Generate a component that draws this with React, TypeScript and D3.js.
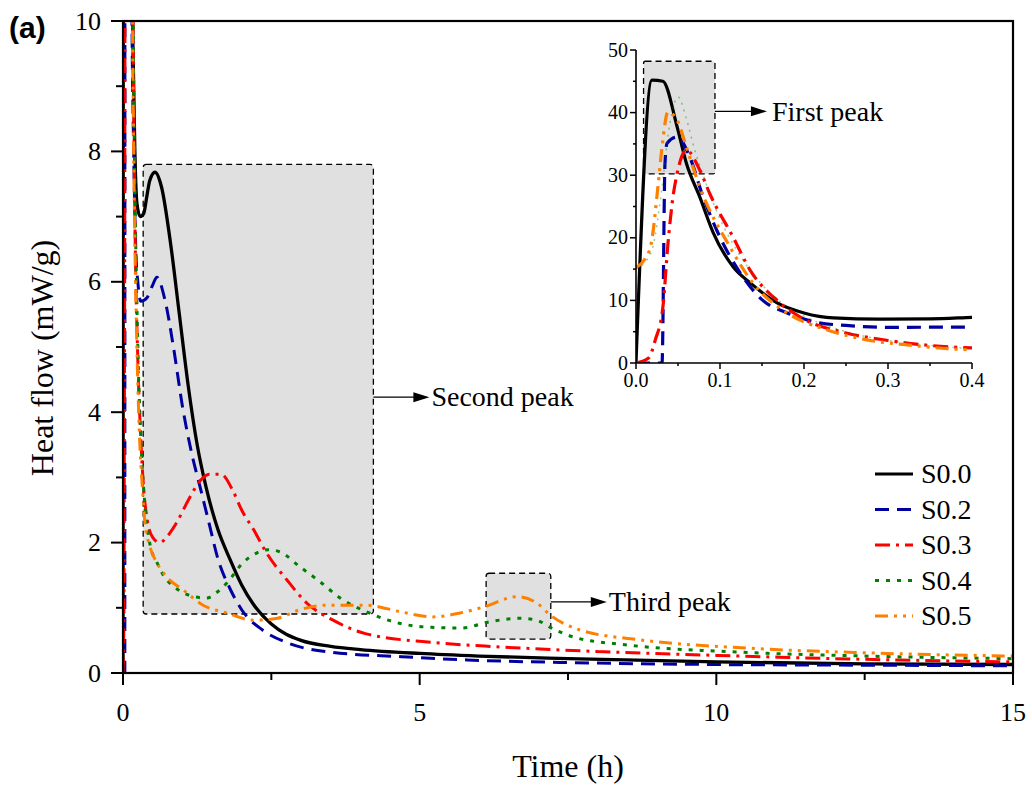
import React from "react";
import * as d3 from "d3";

const width = 1032;
const height = 787;

// [time (h), heat flow (mW/g)]
const s00 = [
  [0, 0], [0.019, 45.2], [0.032, 45], [0.049, 37.7], [0.06, 31.9], [0.076, 26.5],
  [0.092, 20.8], [0.116, 15.3], [0.136, 12.8], [0.168, 9.6], [0.2, 8.0], [0.235, 7.2],
  [0.29, 7.0], [0.35, 7.05], [0.4, 7.3], [0.45, 7.55], [0.54, 7.68], [0.65, 7.45],
  [0.8, 6.6], [0.95, 5.5], [1.1, 4.4], [1.25, 3.5], [1.4, 2.85], [1.6, 2.2], [1.8, 1.75],
  [2.0, 1.35], [2.2, 1.05], [2.5, 0.75], [3.0, 0.5], [3.5, 0.41], [4.0, 0.36], [5, 0.3],
  [6, 0.26], [7.5, 0.22], [10, 0.17], [12.5, 0.14], [15, 0.13]
];
const s02 = [
  [0, 0], [0.031, 0], [0.0345, 31.9], [0.037, 35.1], [0.049, 36.1], [0.064, 32.9],
  [0.08, 26.5], [0.1, 20.1], [0.124, 14.4], [0.151, 10], [0.18, 8], [0.215, 6.5],
  [0.25, 6.0], [0.3, 5.7], [0.4, 5.75], [0.5, 5.95], [0.57, 6.07], [0.7, 5.75],
  [0.85, 5.0], [1.0, 4.1], [1.15, 3.4], [1.3, 2.85], [1.45, 2.3], [1.6, 1.75], [1.8, 1.3],
  [2.0, 0.97], [2.35, 0.66], [2.75, 0.47], [3.5, 0.32], [4.7, 0.25], [5.8, 0.2],
  [7.5, 0.16], [10, 0.13], [12.5, 0.12], [15, 0.11]
];
const s03 = [
  [0, 0], [0.015, 0.8], [0.023, 3.7], [0.032, 8.9], [0.038, 19], [0.044, 26.5],
  [0.049, 30.3], [0.06, 34], [0.076, 30.8], [0.088, 27], [0.116, 20], [0.136, 14.8],
  [0.168, 10], [0.2, 7.0], [0.25, 4.8], [0.3, 3.6], [0.35, 2.8], [0.4, 2.4], [0.5, 2.08],
  [0.62, 2.0], [0.75, 2.1], [0.9, 2.3], [1.1, 2.65], [1.3, 2.95], [1.45, 3.05],
  [1.65, 3.05], [1.85, 2.8], [2.0, 2.5], [2.2, 2.2], [2.42, 1.84], [2.76, 1.43],
  [3.1, 1.07], [3.54, 0.81], [4.1, 0.6], [5.2, 0.47], [6.35, 0.4], [8, 0.33], [10, 0.27],
  [12.5, 0.21], [15, 0.17]
];
const s04 = [
  [0, 15], [0.01, 16], [0.02, 18.5], [0.03, 27], [0.04, 38], [0.05, 42.5], [0.06, 39],
  [0.07, 34], [0.08, 30], [0.1, 23], [0.12, 18], [0.15, 12.5], [0.18, 9], [0.2, 7.5],
  [0.25, 5.0], [0.3, 3.6], [0.35, 2.8], [0.4, 2.3], [0.46, 1.95], [0.57, 1.7], [0.68, 1.5],
  [0.85, 1.33], [1.02, 1.23], [1.2, 1.17], [1.41, 1.15], [1.6, 1.25], [1.75, 1.38],
  [2.02, 1.69], [2.25, 1.84], [2.45, 1.89], [2.64, 1.86], [2.98, 1.63], [3.32, 1.4],
  [3.66, 1.15], [4.1, 0.94], [4.67, 0.76], [5.2, 0.7], [5.7, 0.69], [6.2, 0.79],
  [6.7, 0.84], [7.0, 0.8], [7.2, 0.7], [7.6, 0.55], [8.5, 0.43], [10.4, 0.32],
  [12.5, 0.26], [15, 0.22]
];
const s05 = [
  [0, 15.3], [0.01, 16.5], [0.018, 19], [0.026, 28], [0.031, 34.5], [0.038, 40.1],
  [0.049, 38.8], [0.06, 34.5], [0.076, 28.1], [0.112, 18.5], [0.139, 12.8], [0.18, 8],
  [0.227, 5.3], [0.275, 3.7], [0.33, 2.8], [0.37, 2.3], [0.45, 1.95], [0.57, 1.69],
  [0.74, 1.47], [1.02, 1.27], [1.35, 1.04], [1.75, 0.92], [2.2, 0.81], [2.6, 0.84],
  [2.98, 0.97], [3.44, 1.04], [4.1, 1.04], [4.67, 0.94], [5.22, 0.86], [5.68, 0.92],
  [6.07, 1.01], [6.64, 1.17], [6.98, 1.07], [7.2, 0.89], [7.7, 0.66], [8.7, 0.51],
  [10.57, 0.38], [12.5, 0.31], [15, 0.26]
];

const seriesNames = ["S0.0", "S0.2", "S0.3", "S0.4", "S0.5"];
const seriesData = [s00, s02, s03, s04, s05];
const seriesColors = ["#000000", "#0000a0", "#ff0000", "#008000", "#ff8000"];
const seriesDash = ["", "14,8", "15,6,3,6", "4,7", "13,6,3,6,3,6"];

// highlighted regions [t0, t1, v0, v1] and their labels
const mainBoxes = [
  { label: "Second peak", t: [0.34, 4.22], v: [0.905, 7.8], arrowV: 4.23 },
  { label: "Third peak", t: [6.12, 7.21], v: [0.52, 1.53], arrowV: 1.09 }
];
const insetBox = { label: "First peak", t: [0.009, 0.094], v: [30.2, 48.2], arrowV: 40.2 };

const serif = "'Liberation Serif', 'Times New Roman', serif";

function Arrow({ x1, x2, y }: { x1: number; x2: number; y: number }) {
  return (
    <g>
      <line x1={x1} x2={x2 - 12} y1={y} y2={y} stroke="#000" strokeWidth={1.3} />
      <path d={`M${x2},${y} L${x2 - 16},${y - 5} L${x2 - 16},${y + 5} Z`} fill="#000" />
    </g>
  );
}

export default function App() {
  const x = d3.scaleLinear().domain([0, 15]).range([123, 1013]);
  const y = d3.scaleLinear().domain([0, 10]).range([673, 21]);
  const ix = d3.scaleLinear().domain([0, 0.4]).range([636, 972]);
  const iy = d3.scaleLinear().domain([0, 50]).range([363, 50]);

  const line = d3
    .line<number[]>()
    .x(d => x(d[0]))
    .y(d => y(d[1]))
    .curve(d3.curveMonotoneX);
  const insetLine = d3
    .line<number[]>()
    .x(d => ix(d[0]))
    .y(d => iy(d[1]))
    .curve(d3.curveMonotoneX);

  const xMajor = x.ticks(3);
  const xMinor = d3.pairs(xMajor).map(([a, b]) => (a + b) / 2);
  const yMajor = y.ticks(5);
  const yMinor = d3.pairs(yMajor).map(([a, b]) => (a + b) / 2);
  const ixMajor = ix.ticks(4);
  const ixMinor = d3.pairs(ixMajor).map(([a, b]) => (a + b) / 2);
  const iyMajor = iy.ticks(5);
  const iyMinor = d3.pairs(iyMajor).map(([a, b]) => (a + b) / 2);
  const fmt1 = d3.format(".1f");

  const [x0, x1] = x.range();
  const [y0, y1] = y.range();

  return (
    <svg width={width} height={height} style={{ position: "absolute", left: 0, top: 0 }}>
      <defs>
        <clipPath id="mainClip">
          <rect x={x0} y={y1} width={x1 - x0} height={y0 - y1} />
        </clipPath>
        <clipPath id="insetClip">
          <rect x={ix(0)} y={iy(50)} width={ix(0.4) - ix(0)} height={iy(0) - iy(50)} />
        </clipPath>
      </defs>
      <rect width={width} height={height} fill="#fff" />

      {/* shaded peak regions */}
      {mainBoxes.map((b, i) => (
        <g key={i}>
          <rect
            x={x(b.t[0])}
            y={y(b.v[1])}
            width={x(b.t[1]) - x(b.t[0])}
            height={y(b.v[0]) - y(b.v[1])}
            rx={3}
            fill="#e0e0e0"
            stroke="#000"
            strokeWidth={1.3}
            strokeDasharray="6,4"
          />
          <Arrow x1={x(b.t[1])} x2={x(b.t[1]) + 56} y={y(b.arrowV)} />
          <text
            x={x(b.t[1]) + 58}
            y={y(b.arrowV)}
            dy="0.33em"
            fontFamily={serif}
            fontSize={28}
          >
            {b.label}
          </text>
        </g>
      ))}

      {/* main curves */}
      <g clipPath="url(#mainClip)">
        {seriesData.map((d, i) => (
          <path
            key={i}
            d={line(d) || ""}
            fill="none"
            stroke={seriesColors[i]}
            strokeWidth={i === 0 ? 3.3 : 3}
            strokeDasharray={seriesDash[i]}
          />
        ))}
      </g>

      {/* frame */}
      <rect x={x0} y={y1} width={x1 - x0} height={y0 - y1} fill="none" stroke="#000" strokeWidth={2.2} />

      {/* x axis */}
      {xMajor.map(t => (
        <g key={"xM" + t}>
          <line x1={x(t)} x2={x(t)} y1={y0} y2={y0 + 12} stroke="#000" strokeWidth={2} />
          <text x={x(t)} y={y0 + 48} textAnchor="middle" fontFamily={serif} fontSize={26}>
            {t}
          </text>
        </g>
      ))}
      {xMinor.map(t => (
        <line key={"xm" + t} x1={x(t)} x2={x(t)} y1={y0} y2={y0 + 7} stroke="#000" strokeWidth={2} />
      ))}

      {/* y axis */}
      {yMajor.map(v => (
        <g key={"yM" + v}>
          <line x1={x0} x2={x0 - 12} y1={y(v)} y2={y(v)} stroke="#000" strokeWidth={2} />
          <text x={x0 - 22} y={y(v)} dy="0.33em" textAnchor="end" fontFamily={serif} fontSize={26}>
            {v}
          </text>
        </g>
      ))}
      {yMinor.map(v => (
        <line key={"ym" + v} x1={x0} x2={x0 - 7} y1={y(v)} y2={y(v)} stroke="#000" strokeWidth={2} />
      ))}

      <text x={(x0 + x1) / 2} y={777} textAnchor="middle" fontFamily={serif} fontSize={32}>
        Time (h)
      </text>
      <text
        transform={`translate(53, 358) rotate(-90)`}
        textAnchor="middle"
        fontFamily={serif}
        fontSize={32}
      >
        Heat flow (mW/g)
      </text>
      <text x={9} y={38} fontFamily="'Liberation Sans', Arial, sans-serif" fontWeight="bold" fontSize={30}>
        (a)
      </text>

      {/* legend */}
      {seriesNames.map((name, i) => {
        const ly = 474 + i * 35.5;
        return (
          <g key={name}>
            <line
              x1={875}
              x2={913}
              y1={ly}
              y2={ly}
              stroke={seriesColors[i]}
              strokeWidth={3}
              strokeDasharray={seriesDash[i]}
            />
            <text x={921} y={ly} dy="0.33em" fontFamily={serif} fontSize={28}>
              {name}
            </text>
          </g>
        );
      })}

      {/* inset: first peak */}
      <g>
        <rect
          x={ix(insetBox.t[0])}
          y={iy(insetBox.v[1])}
          width={ix(insetBox.t[1]) - ix(insetBox.t[0])}
          height={iy(insetBox.v[0]) - iy(insetBox.v[1])}
          rx={2}
          fill="#e0e0e0"
          stroke="#000"
          strokeWidth={1.3}
          strokeDasharray="6,4"
        />
        <Arrow x1={ix(insetBox.t[1])} x2={ix(insetBox.t[1]) + 52} y={iy(insetBox.arrowV)} />
        <text
          x={ix(insetBox.t[1]) + 57}
          y={iy(insetBox.arrowV)}
          dy="0.33em"
          fontFamily={serif}
          fontSize={28}
        >
          {insetBox.label}
        </text>

        <g clipPath="url(#insetClip)">
          {seriesData.map((d, i) => (
            <path
              key={i}
              d={insetLine(d.filter(p => p[0] <= 0.45)) || ""}
              fill="none"
              stroke={seriesColors[i]}
              strokeWidth={i === 3 ? 1.5 : 3.2}
              strokeOpacity={i === 3 ? 0.4 : 1}
              strokeDasharray={i === 3 ? "2,5" : seriesDash[i]}
            />
          ))}
        </g>

        <line x1={ix(0)} x2={ix(0.4)} y1={iy(0)} y2={iy(0)} stroke="#000" strokeWidth={1.6} />
        <line x1={ix(0)} x2={ix(0)} y1={iy(0)} y2={iy(50)} stroke="#000" strokeWidth={1.6} />
        {ixMajor.map(t => (
          <g key={"ixM" + t}>
            <line x1={ix(t)} x2={ix(t)} y1={iy(0)} y2={iy(0) + 6} stroke="#000" strokeWidth={1.5} />
            <text x={ix(t)} y={iy(0) + 24} textAnchor="middle" fontFamily={serif} fontSize={20}>
              {fmt1(t)}
            </text>
          </g>
        ))}
        {ixMinor.map(t => (
          <line key={"ixm" + t} x1={ix(t)} x2={ix(t)} y1={iy(0)} y2={iy(0) + 3} stroke="#000" strokeWidth={1.5} />
        ))}
        {iyMajor.map(v => (
          <g key={"iyM" + v}>
            <line x1={ix(0)} x2={ix(0) - 6} y1={iy(v)} y2={iy(v)} stroke="#000" strokeWidth={1.5} />
            <text x={ix(0) - 8} y={iy(v)} dy="0.33em" textAnchor="end" fontFamily={serif} fontSize={20}>
              {v}
            </text>
          </g>
        ))}
        {iyMinor.map(v => (
          <line key={"iym" + v} x1={ix(0)} x2={ix(0) - 3} y1={iy(v)} y2={iy(v)} stroke="#000" strokeWidth={1.5} />
        ))}
      </g>
    </svg>
  );
}
